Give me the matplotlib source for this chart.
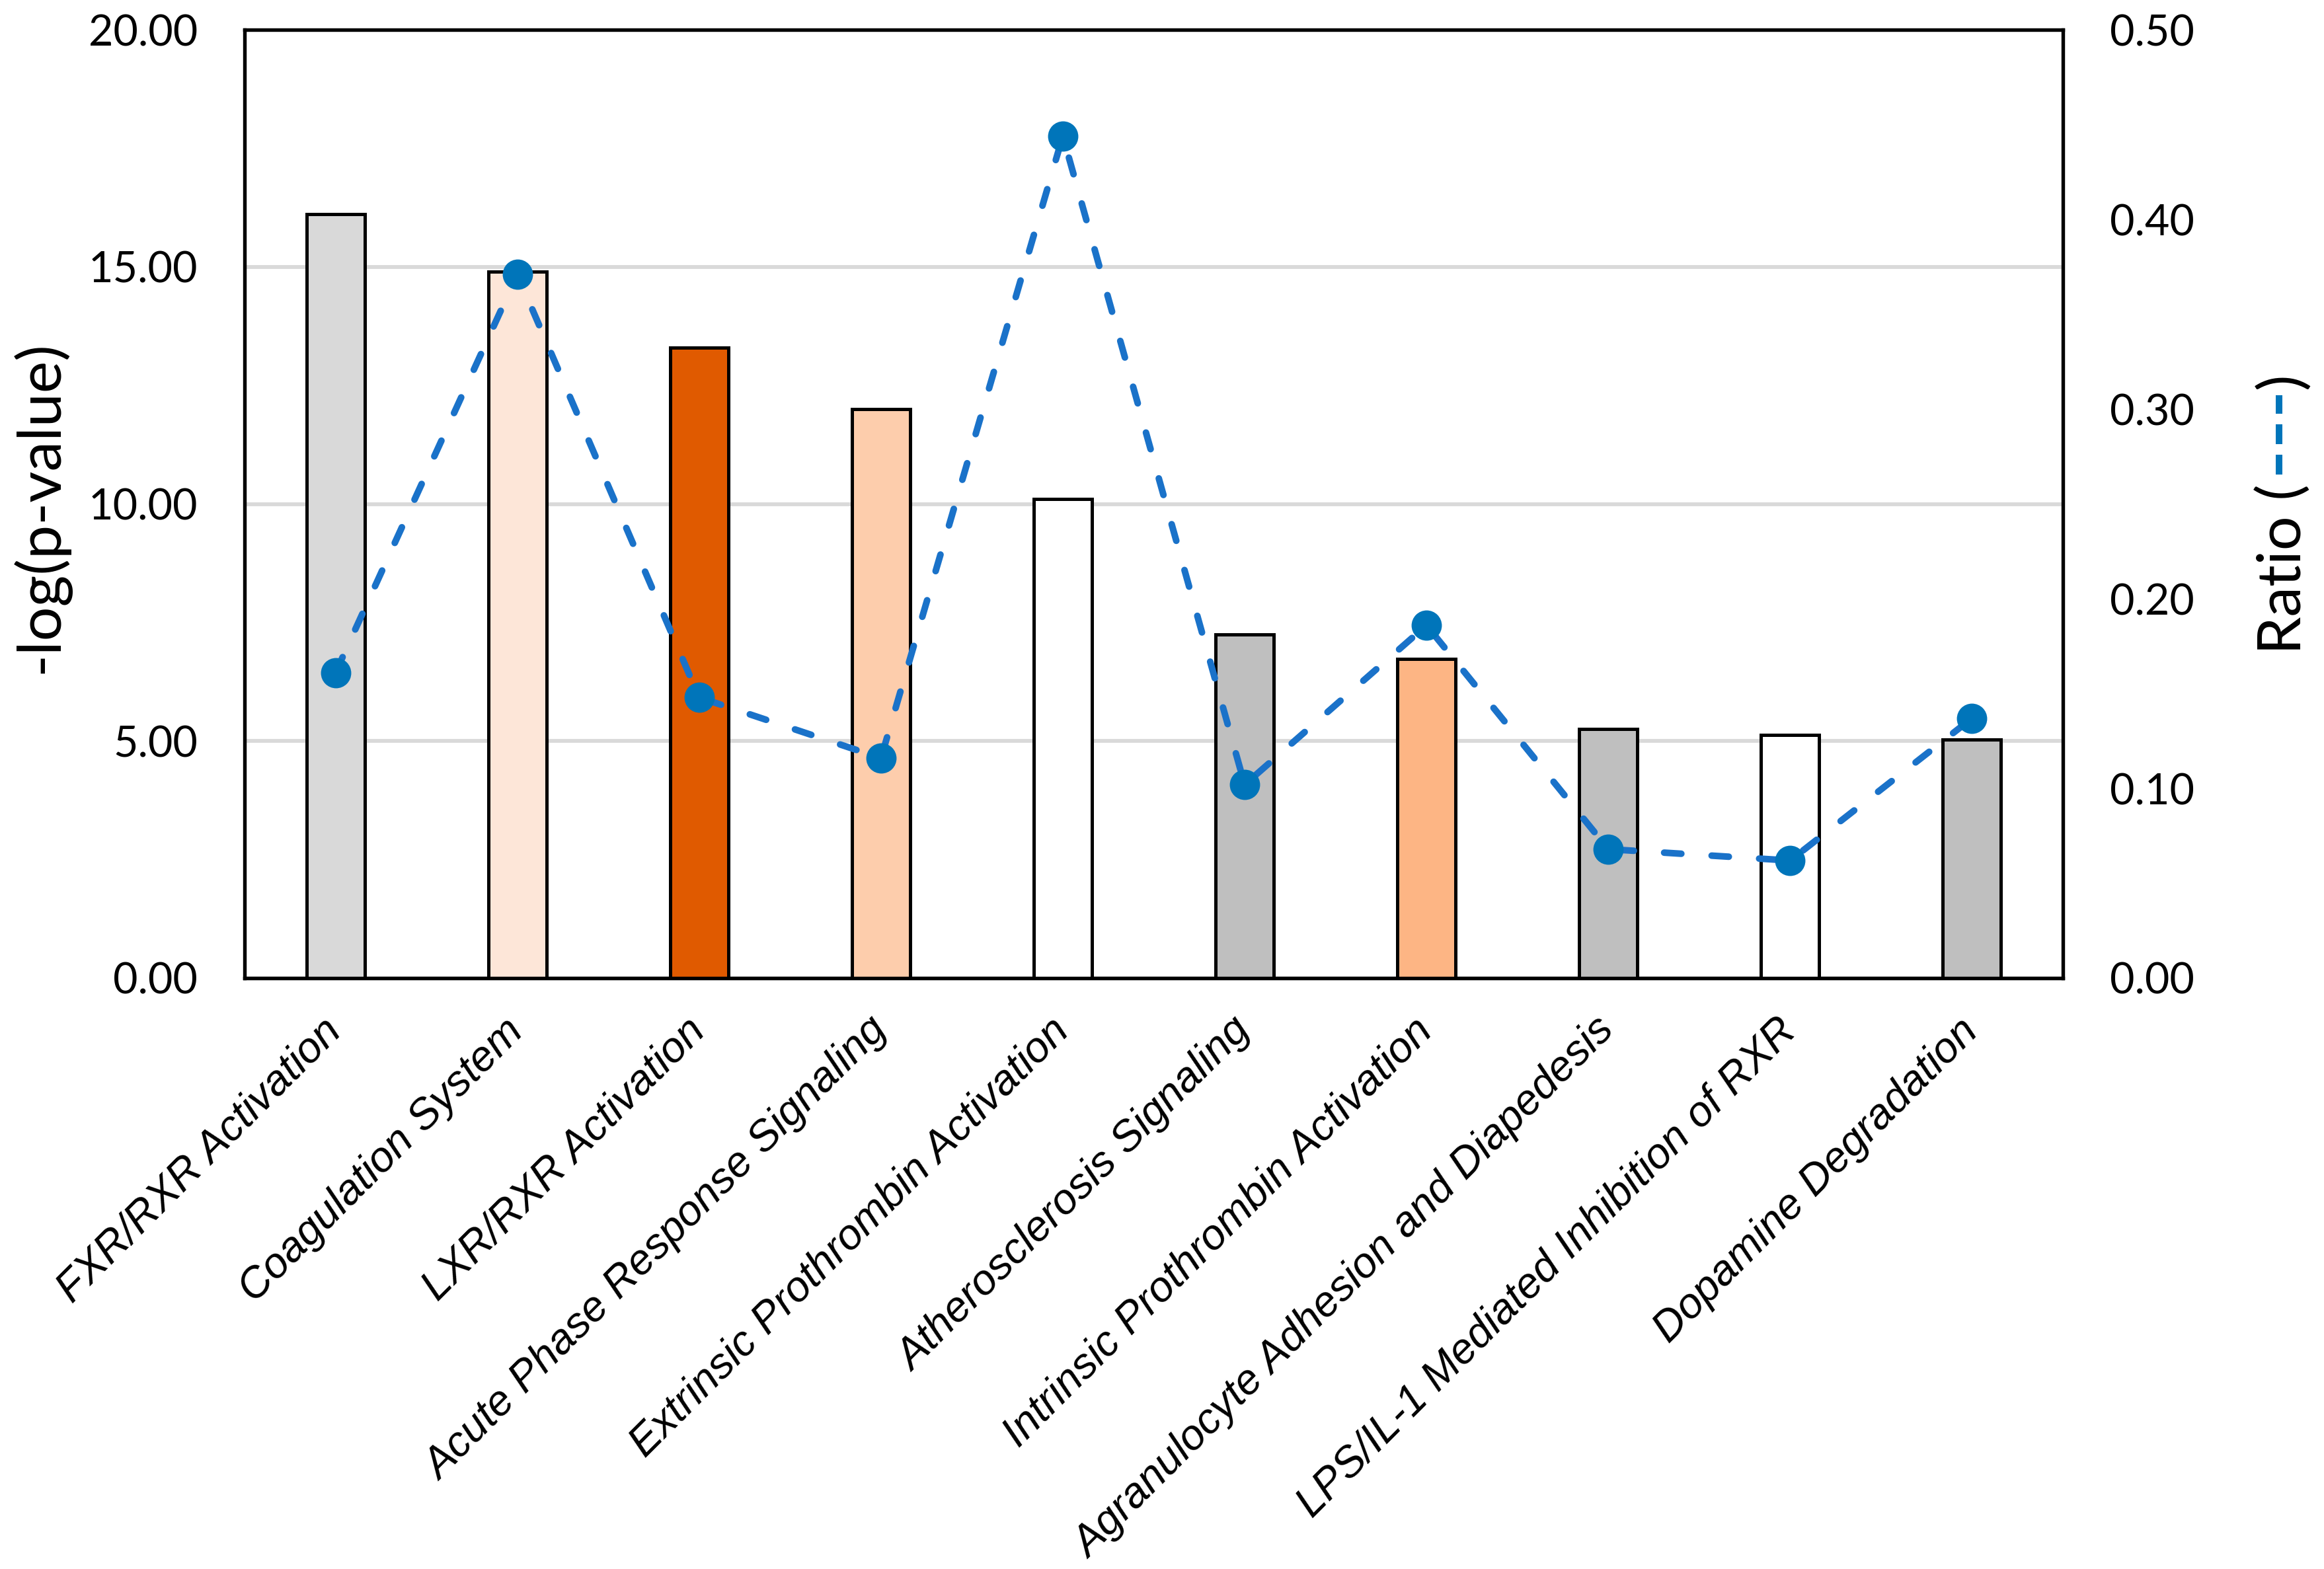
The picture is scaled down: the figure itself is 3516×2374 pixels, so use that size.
import matplotlib
matplotlib.use("Agg")
import matplotlib.pyplot as plt
import numpy as np
from matplotlib.lines import Line2D
from matplotlib.ticker import FormatStrFormatter, MultipleLocator

# pathway data
pathways = ["FXR/RXR Activation", "Coagulation System", "LXR/RXR Activation",
            "Acute Phase Response Signaling", "Extrinsic Prothrombin Activation",
            "Atherosclerosis Signaling", "Intrinsic Prothrombin Activation",
            "Agranulocyte Adhesion and Diapedesis",
            "LPS/IL-1 Mediated Inhibition of RXR", "Dopamine Degradation"]
neg_log_p = [16.11, 14.90, 13.30, 12.00, 10.10, 7.25, 6.73, 5.25, 5.13, 5.03]
ratio = [0.161, 0.371, 0.148, 0.116, 0.444, 0.102, 0.186, 0.068, 0.062, 0.137]
bar_colors = ["#D9D9D9", "#FDE6D8", "#E05A00", "#FDCDAC", "#FFFFFF",
              "#BFBFBF", "#FDB584", "#BFBFBF", "#FFFFFF", "#BFBFBF"]

label_font = "Lato"
cat_font = "Liberation Sans"

fig = plt.figure(figsize=(3516 / 300, 2374 / 300), dpi=300)
ax = fig.add_axes([370 / 3516, 1 - 1480 / 2374, (3121 - 370) / 3516, (1480 - 45) / 2374])

x = np.arange(len(pathways))
ax.bar(x, neg_log_p, width=0.32, color=bar_colors, edgecolor="black",
       linewidth=1.2, zorder=2)
ax.set_xlim(-0.5, len(pathways) - 0.5)
ax.set_ylim(0, 20)
ax.yaxis.set_major_locator(MultipleLocator(5))
ax.yaxis.set_major_formatter(FormatStrFormatter("%.2f"))
ax.grid(axis="y", color="#D9D9D9", linewidth=1.4)
ax.set_axisbelow(True)
for s in ax.spines.values():
    s.set_linewidth(1.25)
    s.set_color("black")

ax.tick_params(axis="both", length=0)
ax.tick_params(axis="y", pad=17, labelsize=15.5)
for t in ax.get_yticklabels():
    t.set_family(label_font)

ax.set_xticks(x)
ax.set_xticklabels(pathways, rotation=45, ha="right", va="center",
                   rotation_mode="anchor", fontsize=15.5, fontstyle="italic",
                   family=cat_font)
ax.tick_params(axis="x", pad=17)

# left axis label placed directly so it stays inside the figure
fig.text(61 / 3516, 1 - 767 / 2374, "-log(p-value)", rotation=90,
         ha="center", va="center", fontsize=22, family=label_font)

# ratio on the secondary axis
ax2 = ax.twinx()
ax2.plot(x, ratio, color="#1a72c9", linewidth=2.4, linestyle=(0, (2.6, 4.6)),
         dash_capstyle="round", zorder=3)
ax2.plot(x, ratio, linestyle="none", marker="o", markersize=11,
         markerfacecolor="#0075ba", markeredgewidth=0, zorder=4)
ax2.set_ylim(0, 0.5)
ax2.yaxis.set_major_locator(MultipleLocator(0.1))
ax2.yaxis.set_major_formatter(FormatStrFormatter("%.2f"))
ax2.tick_params(axis="y", length=0, pad=17, labelsize=15.5)
for t in ax2.get_yticklabels():
    t.set_family(label_font)
for s in ax2.spines.values():
    s.set_linewidth(1.25)

# right axis label: "Ratio (" + blue dashes + ")"
xr = 3455 / 3516
y0 = 1 - 990 / 2374
t1 = fig.text(xr, y0, "Ratio (", rotation=90, ha="center", va="bottom",
              fontsize=22, family=label_font)
fig.canvas.draw()
r = fig.canvas.get_renderer()
bb = t1.get_window_extent(r).transformed(fig.transFigure.inverted())
seg_start = bb.y1 + 0.006
seg_end = seg_start + 120 / 2374
fig.add_artist(Line2D([xr - 0.002, xr - 0.002], [seg_start, seg_end],
                      transform=fig.transFigure, color="#0075ba", linewidth=2.4,
                      linestyle=(0, (3.0, 1.6)), solid_capstyle="butt",
                      dash_capstyle="butt"))
fig.text(xr, seg_end + 0.004, ")", rotation=90, ha="center", va="bottom",
         fontsize=22, family=label_font)

fig.savefig("out.png", dpi=300)
